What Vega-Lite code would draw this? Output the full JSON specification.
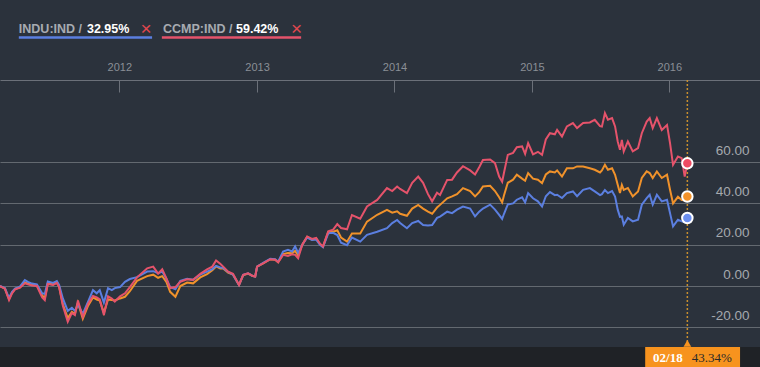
{
  "$schema": "https://vega.github.io/schema/vega-lite/v6.json",
  "width": 760,
  "height": 367,
  "autosize": {"type": "none"},
  "padding": 0,
  "background": "#2b323c",
  "config": {"view": {"stroke": null}, "font": "Liberation Sans"},
  "datasets": {
    "prices": [
      {"date":"2011-02-18","CCMP":0,"SPX":0,"INDU":0},
      {"date":"2011-03-03","CCMP":-1.3,"SPX":-1.2,"INDU":-1.0},
      {"date":"2011-03-14","CCMP":-6.8,"SPX":-6.3,"INDU":-5.8},
      {"date":"2011-03-22","CCMP":-3.5,"SPX":-3.2,"INDU":-2.8},
      {"date":"2011-03-30","CCMP":-1.6,"SPX":-1.4,"INDU":-1.2},
      {"date":"2011-04-12","CCMP":-0.8,"SPX":-0.6,"INDU":-0.3},
      {"date":"2011-04-25","CCMP":1.3,"SPX":1.8,"INDU":2.9},
      {"date":"2011-05-03","CCMP":0.8,"SPX":1.2,"INDU":2.0},
      {"date":"2011-05-14","CCMP":0.3,"SPX":0.6,"INDU":1.2},
      {"date":"2011-05-27","CCMP":0.0,"SPX":0.3,"INDU":0.8},
      {"date":"2011-06-10","CCMP":-5.5,"SPX":-4.5,"INDU":-3.5},
      {"date":"2011-06-17","CCMP":-6.8,"SPX":-5.8,"INDU":-3.8},
      {"date":"2011-06-25","CCMP":1.0,"SPX":1.3,"INDU":2.2},
      {"date":"2011-07-09","CCMP":0.5,"SPX":0.8,"INDU":1.5},
      {"date":"2011-07-19","CCMP":1.5,"SPX":1.8,"INDU":2.4},
      {"date":"2011-07-25","CCMP":-0.5,"SPX":-0.3,"INDU":0.5},
      {"date":"2011-08-04","CCMP":-9.5,"SPX":-8.8,"INDU":-6.0},
      {"date":"2011-08-17","CCMP":-17.3,"SPX":-15.5,"INDU":-12.0},
      {"date":"2011-08-28","CCMP":-13.0,"SPX":-12.5,"INDU":-10.5},
      {"date":"2011-09-05","CCMP":-14.0,"SPX":-13.5,"INDU":-12.0},
      {"date":"2011-09-13","CCMP":-7.0,"SPX":-8.0,"INDU":-9.0},
      {"date":"2011-09-26","CCMP":-15.0,"SPX":-15.8,"INDU":-13.5},
      {"date":"2011-10-10","CCMP":-8.5,"SPX":-9.5,"INDU":-7.5},
      {"date":"2011-10-23","CCMP":-4.8,"SPX":-5.5,"INDU":-2.0},
      {"date":"2011-11-02","CCMP":-5.5,"SPX":-6.5,"INDU":-3.5},
      {"date":"2011-11-10","CCMP":-6.5,"SPX":-7.0,"INDU":-2.0},
      {"date":"2011-11-21","CCMP":-14.0,"SPX":-13.0,"INDU":-8.0},
      {"date":"2011-12-02","CCMP":-5.0,"SPX":-6.5,"INDU":-1.0},
      {"date":"2011-12-12","CCMP":-6.0,"SPX":-6.8,"INDU":-2.0},
      {"date":"2011-12-20","CCMP":-7.5,"SPX":-7.0,"INDU":-1.0},
      {"date":"2012-01-03","CCMP":-5.0,"SPX":-6.0,"INDU":-0.5},
      {"date":"2012-01-16","CCMP":-3.5,"SPX":-5.2,"INDU":2.0},
      {"date":"2012-01-29","CCMP":-0.5,"SPX":-2.5,"INDU":3.4},
      {"date":"2012-02-17","CCMP":4.2,"SPX":2.5,"INDU":4.3},
      {"date":"2012-03-15","CCMP":8.6,"SPX":4.8,"INDU":7.0},
      {"date":"2012-03-31","CCMP":9.4,"SPX":5.5,"INDU":7.2},
      {"date":"2012-04-13","CCMP":6.0,"SPX":4.0,"INDU":6.2},
      {"date":"2012-04-24","CCMP":8.1,"SPX":4.8,"INDU":7.0},
      {"date":"2012-05-05","CCMP":3.7,"SPX":2.0,"INDU":3.5},
      {"date":"2012-05-15","CCMP":-1.0,"SPX":-2.8,"INDU":-0.5},
      {"date":"2012-05-29","CCMP":-0.5,"SPX":-5.2,"INDU":-1.5},
      {"date":"2012-06-11","CCMP":2.1,"SPX":0.0,"INDU":2.5},
      {"date":"2012-06-29","CCMP":3.3,"SPX":1.7,"INDU":3.5},
      {"date":"2012-07-15","CCMP":3.0,"SPX":1.3,"INDU":3.0},
      {"date":"2012-08-03","CCMP":5.9,"SPX":4.2,"INDU":5.5},
      {"date":"2012-08-21","CCMP":8.1,"SPX":5.8,"INDU":7.0},
      {"date":"2012-09-04","CCMP":9.4,"SPX":7.7,"INDU":8.2},
      {"date":"2012-09-14","CCMP":12.4,"SPX":9.5,"INDU":9.8},
      {"date":"2012-09-25","CCMP":10.8,"SPX":8.5,"INDU":9.0},
      {"date":"2012-10-03","CCMP":9.4,"SPX":8.5,"INDU":8.8},
      {"date":"2012-10-16","CCMP":7.0,"SPX":6.5,"INDU":6.8},
      {"date":"2012-10-29","CCMP":5.9,"SPX":5.5,"INDU":5.5},
      {"date":"2012-11-14","CCMP":0.5,"SPX":0.5,"INDU":0.5},
      {"date":"2012-11-25","CCMP":5.4,"SPX":5.2,"INDU":5.4},
      {"date":"2012-12-08","CCMP":6.2,"SPX":6.0,"INDU":6.2},
      {"date":"2012-12-19","CCMP":5.0,"SPX":5.0,"INDU":5.0},
      {"date":"2012-12-27","CCMP":4.6,"SPX":4.6,"INDU":4.6},
      {"date":"2013-01-01","CCMP":9.4,"SPX":9.4,"INDU":9.4},
      {"date":"2013-01-17","CCMP":11.0,"SPX":11.0,"INDU":11.2},
      {"date":"2013-02-05","CCMP":13.0,"SPX":13.0,"INDU":13.2},
      {"date":"2013-02-18","CCMP":12.7,"SPX":12.7,"INDU":13.0},
      {"date":"2013-02-26","CCMP":11.5,"SPX":11.5,"INDU":11.8},
      {"date":"2013-03-11","CCMP":15.1,"SPX":15.5,"INDU":16.7},
      {"date":"2013-03-24","CCMP":14.6,"SPX":16.0,"INDU":17.5},
      {"date":"2013-04-04","CCMP":15.4,"SPX":15.9,"INDU":16.7},
      {"date":"2013-04-12","CCMP":15.1,"SPX":17.0,"INDU":19.2},
      {"date":"2013-04-20","CCMP":13.5,"SPX":14.8,"INDU":16.0},
      {"date":"2013-05-01","CCMP":20.0,"SPX":20.0,"INDU":20.0},
      {"date":"2013-05-14","CCMP":24.0,"SPX":23.8,"INDU":23.5},
      {"date":"2013-05-27","CCMP":22.8,"SPX":22.5,"INDU":22.3},
      {"date":"2013-06-07","CCMP":23.3,"SPX":23.0,"INDU":22.5},
      {"date":"2013-06-17","CCMP":20.5,"SPX":20.3,"INDU":20.0},
      {"date":"2013-06-25","CCMP":19.2,"SPX":19.0,"INDU":18.8},
      {"date":"2013-07-09","CCMP":26.5,"SPX":26.2,"INDU":25.5},
      {"date":"2013-07-22","CCMP":27.3,"SPX":26.3,"INDU":25.8},
      {"date":"2013-08-02","CCMP":30.0,"SPX":27.0,"INDU":24.7},
      {"date":"2013-08-12","CCMP":28.1,"SPX":23.5,"INDU":21.0},
      {"date":"2013-08-28","CCMP":27.5,"SPX":21.5,"INDU":19.8},
      {"date":"2013-09-10","CCMP":34.4,"SPX":25.5,"INDU":23.5},
      {"date":"2013-10-02","CCMP":32.6,"SPX":25.5,"INDU":21.5},
      {"date":"2013-10-20","CCMP":38.5,"SPX":31.2,"INDU":24.8},
      {"date":"2013-11-16","CCMP":41.7,"SPX":34.5,"INDU":26.3},
      {"date":"2013-12-12","CCMP":47.4,"SPX":36.9,"INDU":28.0},
      {"date":"2013-12-26","CCMP":46.0,"SPX":35.5,"INDU":30.5},
      {"date":"2014-01-08","CCMP":48.2,"SPX":36.2,"INDU":32.0},
      {"date":"2014-01-16","CCMP":47.0,"SPX":35.0,"INDU":30.5},
      {"date":"2014-02-03","CCMP":45.0,"SPX":34.0,"INDU":28.0},
      {"date":"2014-02-17","CCMP":50.0,"SPX":37.5,"INDU":30.5},
      {"date":"2014-03-05","CCMP":53.0,"SPX":39.3,"INDU":31.5},
      {"date":"2014-03-18","CCMP":50.0,"SPX":37.5,"INDU":29.5},
      {"date":"2014-03-31","CCMP":44.5,"SPX":36.0,"INDU":29.3},
      {"date":"2014-04-11","CCMP":41.0,"SPX":35.0,"INDU":29.5},
      {"date":"2014-04-24","CCMP":45.2,"SPX":38.0,"INDU":33.0},
      {"date":"2014-05-02","CCMP":44.1,"SPX":39.3,"INDU":33.6},
      {"date":"2014-05-21","CCMP":51.4,"SPX":42.5,"INDU":36.0},
      {"date":"2014-06-03","CCMP":51.5,"SPX":43.4,"INDU":35.3},
      {"date":"2014-06-16","CCMP":55.0,"SPX":44.5,"INDU":37.0},
      {"date":"2014-07-02","CCMP":58.0,"SPX":47.4,"INDU":38.5},
      {"date":"2014-07-21","CCMP":56.0,"SPX":46.0,"INDU":37.5},
      {"date":"2014-08-03","CCMP":54.0,"SPX":43.4,"INDU":33.7},
      {"date":"2014-08-14","CCMP":57.5,"SPX":45.5,"INDU":36.0},
      {"date":"2014-08-24","CCMP":61.0,"SPX":48.2,"INDU":37.5},
      {"date":"2014-09-12","CCMP":61.3,"SPX":48.5,"INDU":39.4},
      {"date":"2014-09-25","CCMP":59.5,"SPX":46.0,"INDU":37.0},
      {"date":"2014-10-06","CCMP":53.0,"SPX":43.0,"INDU":34.5},
      {"date":"2014-10-14","CCMP":50.5,"SPX":40.5,"INDU":32.5},
      {"date":"2014-10-19","CCMP":55.0,"SPX":44.0,"INDU":35.0},
      {"date":"2014-10-29","CCMP":63.5,"SPX":50.0,"INDU":39.5},
      {"date":"2014-11-12","CCMP":64.5,"SPX":51.5,"INDU":40.0},
      {"date":"2014-11-22","CCMP":67.2,"SPX":53.9,"INDU":41.8},
      {"date":"2014-12-06","CCMP":67.6,"SPX":52.0,"INDU":43.0},
      {"date":"2014-12-14","CCMP":64.0,"SPX":51.0,"INDU":40.5},
      {"date":"2014-12-22","CCMP":69.2,"SPX":54.7,"INDU":45.0},
      {"date":"2015-01-04","CCMP":63.8,"SPX":52.0,"INDU":42.5},
      {"date":"2015-01-17","CCMP":65.0,"SPX":51.5,"INDU":41.0},
      {"date":"2015-01-28","CCMP":63.5,"SPX":49.8,"INDU":38.5},
      {"date":"2015-02-07","CCMP":71.0,"SPX":54.0,"INDU":43.5},
      {"date":"2015-02-18","CCMP":74.0,"SPX":55.5,"INDU":45.5},
      {"date":"2015-03-03","CCMP":73.5,"SPX":55.0,"INDU":44.0},
      {"date":"2015-03-09","CCMP":75.6,"SPX":56.0,"INDU":44.2},
      {"date":"2015-03-22","CCMP":72.4,"SPX":53.0,"INDU":42.6},
      {"date":"2015-04-04","CCMP":77.3,"SPX":57.0,"INDU":45.0},
      {"date":"2015-04-20","CCMP":78.9,"SPX":57.0,"INDU":45.8},
      {"date":"2015-05-01","CCMP":76.5,"SPX":57.9,"INDU":43.5},
      {"date":"2015-05-17","CCMP":79.0,"SPX":57.9,"INDU":46.6},
      {"date":"2015-06-04","CCMP":79.2,"SPX":57.0,"INDU":47.4},
      {"date":"2015-06-17","CCMP":80.5,"SPX":56.3,"INDU":45.8},
      {"date":"2015-07-01","CCMP":77.4,"SPX":55.0,"INDU":44.0},
      {"date":"2015-07-06","CCMP":77.2,"SPX":56.0,"INDU":44.5},
      {"date":"2015-07-14","CCMP":83.7,"SPX":58.7,"INDU":46.5},
      {"date":"2015-07-22","CCMP":80.5,"SPX":56.3,"INDU":45.0},
      {"date":"2015-08-02","CCMP":81.3,"SPX":57.0,"INDU":46.0},
      {"date":"2015-08-10","CCMP":77.3,"SPX":53.9,"INDU":43.3},
      {"date":"2015-08-17","CCMP":70.0,"SPX":49.0,"INDU":37.0},
      {"date":"2015-08-23","CCMP":66.0,"SPX":45.0,"INDU":33.5},
      {"date":"2015-08-28","CCMP":70.8,"SPX":49.0,"INDU":33.7},
      {"date":"2015-09-02","CCMP":65.2,"SPX":46.6,"INDU":29.7},
      {"date":"2015-09-13","CCMP":70.0,"SPX":47.5,"INDU":33.0},
      {"date":"2015-09-26","CCMP":65.2,"SPX":43.4,"INDU":31.3},
      {"date":"2015-10-10","CCMP":66.8,"SPX":45.8,"INDU":32.1},
      {"date":"2015-10-20","CCMP":74.0,"SPX":52.3,"INDU":39.4},
      {"date":"2015-11-02","CCMP":79.6,"SPX":55.5,"INDU":42.6},
      {"date":"2015-11-10","CCMP":81.3,"SPX":54.7,"INDU":44.2},
      {"date":"2015-11-18","CCMP":76.5,"SPX":52.3,"INDU":39.4},
      {"date":"2015-11-29","CCMP":81.3,"SPX":55.5,"INDU":44.2},
      {"date":"2015-12-12","CCMP":75.6,"SPX":52.3,"INDU":41.0},
      {"date":"2015-12-26","CCMP":78.0,"SPX":53.9,"INDU":41.8},
      {"date":"2016-01-03","CCMP":69.2,"SPX":46.6,"INDU":35.3},
      {"date":"2016-01-11","CCMP":58.7,"SPX":40.0,"INDU":28.9},
      {"date":"2016-01-24","CCMP":62.7,"SPX":43.2,"INDU":32.1},
      {"date":"2016-02-03","CCMP":61.9,"SPX":41.6,"INDU":31.3},
      {"date":"2016-02-11","CCMP":53.0,"SPX":41.5,"INDU":31.0},
      {"date":"2016-02-18","CCMP":59.42,"SPX":43.34,"INDU":32.95}
    ],
    "ends": [
      {"date":"2016-02-18","series":"INDU","value":32.95},
      {"date":"2016-02-18","series":"SPX","value":43.34},
      {"date":"2016-02-18","series":"CCMP","value":59.42}
    ],
    "one": [{"label":"02/18","pct":"43.34%"}]
  },
  "layer": [
    {
      "data": {"name": "one"},
      "mark": {"type": "rect", "color": "#1f2226"},
      "encoding": {
        "x": {"datum": {"year":2011,"month":2,"date":18}, "type": "temporal"},
        "x2": {"datum": {"year":2016,"month":8,"date":29}},
        "y": {"datum": -29.5},
        "y2": {"datum": -40}
      }
    },
    {
      "data": {"name": "prices"},
      "mark": {"type": "line", "color": "#f0922b", "strokeWidth": 2},
      "encoding": {
        "x": {
          "field": "date", "type": "temporal",
          "scale": {"domain": [{"year":2011,"month":2,"date":18},{"year":2016,"month":8,"date":29}]},
          "axis": {
            "orient": "top", "offset": -80, "title": null, "format": "%Y",
            "values": [{"year":2012,"month":1,"date":1},{"year":2013,"month":1,"date":1},{"year":2014,"month":1,"date":1},{"year":2015,"month":1,"date":1},{"year":2016,"month":1,"date":1}],
            "grid": false, "domainColor": "#6b7079", "tickColor": "#6b7079", "tickSize": -12,
            "labelColor": "#8a8f96", "labelFontSize": 11, "labelPadding": 22, "labelBaseline": "alphabetic", "labelFont": "Liberation Sans"
          }
        },
        "y": {
          "field": "SPX", "type": "quantitative",
          "scale": {"domain": [-39.2, 138.5], "nice": false, "zero": false},
          "axis": {
            "orient": "right", "title": null, "values": [-20, 0, 20, 40, 60],
            "labelExpr": "datum.value < 0 ? '-' + format(-datum.value, '.2f') : format(datum.value, '.2f')",
            "domain": false, "ticks": false, "tickSize": 0, "labelAlign": "right", "labelPadding": -11,
            "labelBaseline": "alphabetic", "labelOffset": -8, "grid": true, "gridColor": "#636970",
            "labelColor": "#a5a9ae", "labelFontSize": 13.5, "labelFont": "Liberation Sans"
          }
        }
      }
    },
    {
      "data": {"name": "prices"},
      "mark": {"type": "line", "color": "#5b7fe0", "strokeWidth": 2},
      "encoding": {
        "x": {"field": "date", "type": "temporal"},
        "y": {"field": "INDU", "type": "quantitative"}
      }
    },
    {
      "data": {"name": "prices"},
      "mark": {"type": "line", "color": "#e5536b", "strokeWidth": 2},
      "encoding": {
        "x": {"field": "date", "type": "temporal"},
        "y": {"field": "CCMP", "type": "quantitative"}
      }
    },
    {
      "data": {"name": "one"},
      "mark": {"type": "rule", "color": "#c98f2e", "strokeDash": [2, 2], "strokeWidth": 1.5},
      "encoding": {
        "x": {"datum": {"year":2016,"month":2,"date":18}, "type": "temporal"},
        "y": {"datum": 99.8},
        "y2": {"datum": -28}
      }
    },
    {
      "data": {"name": "ends"},
      "mark": {"type": "point", "filled": true, "size": 110, "stroke": "white", "strokeWidth": 2, "opacity": 1, "strokeOpacity": 1},
      "encoding": {
        "x": {"field": "date", "type": "temporal"},
        "y": {"field": "value", "type": "quantitative"},
        "fill": {"field": "series", "type": "nominal", "scale": {"domain": ["INDU", "SPX", "CCMP"], "range": ["#6b8ff0", "#f39229", "#ee4b62"]}, "legend": null}
      }
    },
    {
      "data": {"name": "one"},
      "mark": {"type": "rect", "color": "#f7931e"},
      "encoding": {
        "x": {"datum": {"year":2015,"month":10,"date":29}, "type": "temporal"},
        "x2": {"datum": {"year":2016,"month":7,"date":7}},
        "y": {"datum": -29.5},
        "y2": {"datum": -40}
      }
    },
    {
      "data": {"name": "one"},
      "mark": {"type": "point", "shape": "triangle-up", "filled": true, "color": "#f7931e", "size": 60, "opacity": 1},
      "encoding": {
        "x": {"datum": {"year":2016,"month":2,"date":18}, "type": "temporal"},
        "y": {"datum": -27.8}
      }
    },
    {
      "data": {"name": "one"},
      "mark": {"type": "text", "align": "left", "baseline": "alphabetic", "font": "Liberation Serif", "fontSize": 13, "fontWeight": "bold", "color": "#ffffff"},
      "encoding": {
        "x": {"datum": {"year":2015,"month":11,"date":19}, "type": "temporal"},
        "y": {"datum": -36.8},
        "text": {"field": "label"}
      }
    },
    {
      "data": {"name": "one"},
      "mark": {"type": "text", "align": "left", "baseline": "alphabetic", "font": "Liberation Serif", "fontSize": 13, "color": "#2a2a2a"},
      "encoding": {
        "x": {"datum": {"year":2016,"month":3,"date":1}, "type": "temporal"},
        "y": {"datum": -36.8},
        "text": {"field": "pct"}
      }
    },
    {
      "data": {"name": "one"},
      "mark": {"type": "text", "align": "left", "baseline": "alphabetic", "fontSize": 12.5, "fontWeight": "bold", "color": "#a7abb1"},
      "encoding": {
        "x": {"datum": {"year":2011,"month":4,"date":9}, "type": "temporal"},
        "y": {"datum": 122.4},
        "text": {"value": "INDU:IND /"}
      }
    },
    {
      "data": {"name": "one"},
      "mark": {"type": "text", "align": "left", "baseline": "alphabetic", "fontSize": 12.5, "fontWeight": "bold", "color": "#ffffff"},
      "encoding": {
        "x": {"datum": {"year":2011,"month":10,"date":7}, "type": "temporal"},
        "y": {"datum": 122.4},
        "text": {"value": "32.95%"}
      }
    },
    {
      "data": {"name": "one"},
      "mark": {"type": "text", "align": "center", "baseline": "middle", "fontSize": 19, "color": "#e0474f"},
      "encoding": {
        "x": {"datum": {"year":2012,"month":3,"date":12}, "type": "temporal"},
        "y": {"datum": 124.4},
        "text": {"value": "×"}
      }
    },
    {
      "data": {"name": "one"},
      "mark": {"type": "rule", "color": "#5b7fe0", "strokeWidth": 2.5},
      "encoding": {
        "x": {"datum": {"year":2011,"month":4,"date":9}, "type": "temporal"},
        "x2": {"datum": {"year":2012,"month":3,"date":28}},
        "y": {"datum": 120.3}
      }
    },
    {
      "data": {"name": "one"},
      "mark": {"type": "text", "align": "left", "baseline": "alphabetic", "fontSize": 12.5, "fontWeight": "bold", "color": "#a7abb1"},
      "encoding": {
        "x": {"datum": {"year":2012,"month":4,"date":26}, "type": "temporal"},
        "y": {"datum": 122.4},
        "text": {"value": "CCMP:IND /"}
      }
    },
    {
      "data": {"name": "one"},
      "mark": {"type": "text", "align": "left", "baseline": "alphabetic", "fontSize": 12.5, "fontWeight": "bold", "color": "#ffffff"},
      "encoding": {
        "x": {"datum": {"year":2012,"month":11,"date":6}, "type": "temporal"},
        "y": {"datum": 122.4},
        "text": {"value": "59.42%"}
      }
    },
    {
      "data": {"name": "one"},
      "mark": {"type": "text", "align": "center", "baseline": "middle", "fontSize": 19, "color": "#e0474f"},
      "encoding": {
        "x": {"datum": {"year":2013,"month":4,"date":16}, "type": "temporal"},
        "y": {"datum": 124.4},
        "text": {"value": "×"}
      }
    },
    {
      "data": {"name": "one"},
      "mark": {"type": "rule", "color": "#e5536b", "strokeWidth": 2.5},
      "encoding": {
        "x": {"datum": {"year":2012,"month":4,"date":23}, "type": "temporal"},
        "x2": {"datum": {"year":2013,"month":4,"date":28}},
        "y": {"datum": 120.3}
      }
    }
  ]
}
